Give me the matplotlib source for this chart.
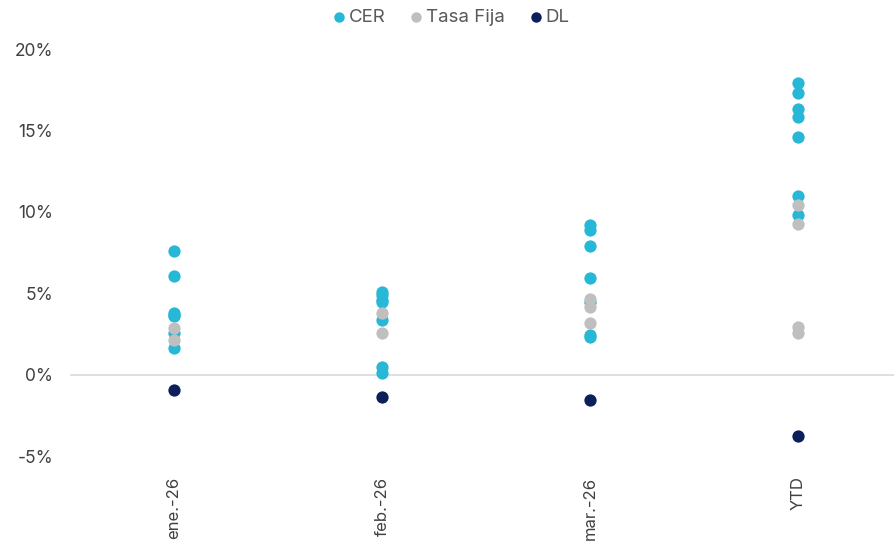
import matplotlib
matplotlib.use("Agg")
import matplotlib.pyplot as plt
from matplotlib.ticker import FuncFormatter

categories = ["ene.-26", "feb.-26", "mar.-26", "YTD"]

cer_values = [
    [7.6, 6.1, 3.8, 3.6, 2.6, 1.65, 3.7],
    [5.1, 4.9, 4.6, 3.4, 0.5, 0.1, 4.5],
    [9.2, 8.9, 7.9, 5.95, 4.5, 2.45, 2.3],
    [17.9, 17.3, 16.3, 15.8, 14.6, 11.0, 9.8],
]
tasa_fija_values = [
    [2.9, 2.15],
    [3.8, 2.6],
    [4.65, 4.2, 3.2],
    [10.4, 9.25, 2.95, 2.6],
]
dl_values = [-0.95, -1.35, -1.55, -3.75]

yticks = [-5, 0, 5, 10, 15, 20]

c_cer = "#26B8D6"
c_tf = "#BFBFBF"
c_dl = "#0C1F5B"

plt.rcParams["font.family"] = ["Inter", "DejaVu Sans"]

fig = plt.figure(figsize=(8.95, 5.46), dpi=100)
ax = fig.add_axes([70 / 895, 1 - 464.6 / 546, 832 / 895, (464.6 - 49) / 546])

ms = 78
for i, vals in enumerate(cer_values):
    ax.scatter([i] * len(vals), vals, s=ms, color=c_cer, linewidths=0, zorder=3,
               label="CER" if i == 0 else None)
for i, vals in enumerate(tasa_fija_values):
    ax.scatter([i] * len(vals), vals, s=ms, color=c_tf, linewidths=0, zorder=3,
               label="Tasa Fija" if i == 0 else None)
ax.scatter(range(len(dl_values)), dl_values, s=ms, color=c_dl, linewidths=0, zorder=3, label="DL")

ax.axhline(0, color="#D9D9D9", lw=1.2, zorder=1)

ax.set_xlim(-0.5, len(categories) - 0.5)
ax.set_ylim(-5.5, 20)
ax.set_yticks(yticks)
ax.yaxis.set_major_formatter(FuncFormatter(lambda v, p: f"{v:.0f}%".replace("\u2212", "-")))
ax.set_xticks(range(len(categories)))
ax.set_xticklabels(categories, rotation=90, va="top", ha="center")
ax.tick_params(axis="both", length=0, labelsize=12, colors="#404040")
ax.tick_params(axis="y", labelsize=12.5, pad=12)
ax.tick_params(axis="x", pad=8.5)
for s in ax.spines.values():
    s.set_visible(False)

leg = fig.legend(loc="center", bbox_to_anchor=(450 / 895, 1 - 17 / 546), ncol=3, frameon=False,
                 fontsize=13.5, handletextpad=0.05, columnspacing=1.2, markerscale=0.85,
                 handlelength=0.9, labelcolor="#595959")

fig.savefig("out.png", dpi=100)
